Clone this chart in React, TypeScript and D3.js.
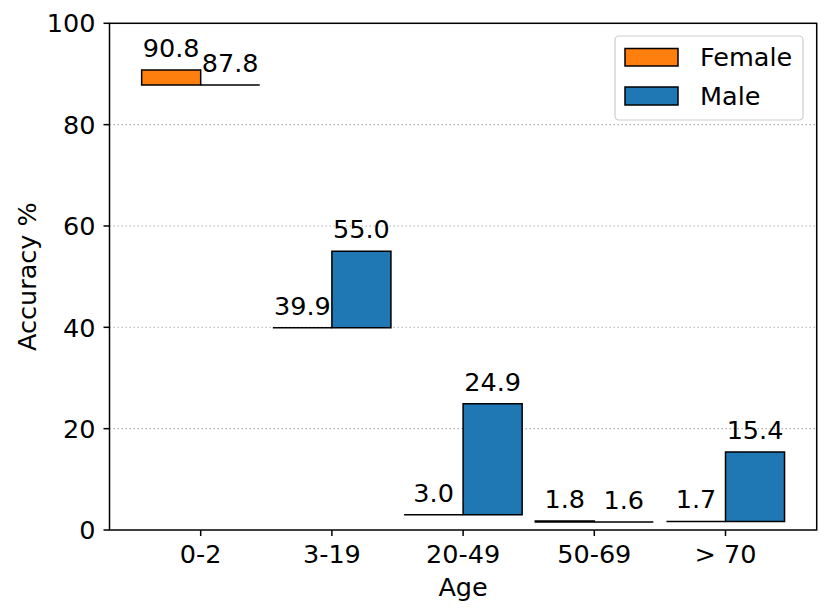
import React from "react";
import * as d3 from "d3";

const categories = ["0-2", "3-19", "20-49", "50-69", "> 70"];
const female = [90.8, 39.9, 3.0, 1.8, 1.7];
const male = [87.8, 55.0, 24.9, 1.6, 15.4];
const yTicks = [0, 20, 40, 60, 80, 100];
const gridTicks = [20, 40, 60, 80];

const W = 830;
const H = 615;
const L = 109.5, R = 816.7, T = 23.3, B = 530;
const FONT = "DejaVu Sans, sans-serif";
const FS = 25.5;

export default function App() {
  const x = d3.scaleLinear().domain([-0.695, 4.695]).range([L, R]);
  const y = d3.scaleLinear().domain([0, 100]).range([B, T]);
  const bw = 0.45;

  const bars: { cx: number; x0: number; x1: number; lo: number; hi: number; color: string; label: string }[] = [];
  categories.forEach((_, i) => {
    const lo = Math.min(female[i], male[i]);
    bars.push({ cx: i - bw / 2, x0: i - bw, x1: i, lo, hi: female[i], color: "#ff7f0e", label: female[i].toFixed(1) });
    bars.push({ cx: i + bw / 2, x0: i, x1: i + bw, lo, hi: male[i], color: "#1f77b4", label: male[i].toFixed(1) });
  });

  return (
    <svg width={W} height={H} style={{ display: "block", position: "absolute", left: 0, top: 0 }} fontFamily={FONT}>
      <rect width={W} height={H} fill="white" />
      {gridTicks.map((t) => (
        <line key={t} x1={L} x2={R} y1={y(t)} y2={y(t)} stroke="#b0b0b0" strokeWidth={1.1} strokeDasharray="1.5,2.5" />
      ))}
      {bars.map((b, i) => {
        const px0 = x(b.x0), px1 = x(b.x1), py0 = y(b.lo), py1 = y(b.hi);
        return (
          <path
            key={i}
            d={`M${px0},${py0}H${px1}V${py1}H${px0}Z`}
            fill={b.color}
            stroke="black"
            strokeWidth={1.5}
          />
        );
      })}
      {bars.map((b, i) => (
        <text key={"l" + i} x={x(b.cx)} y={y(b.hi) - 13} textAnchor="middle" fontSize={FS} fill="black">
          {b.label}
        </text>
      ))}
      <rect x={L} y={T} width={R - L} height={B - T} fill="none" stroke="black" strokeWidth={1.5} />
      {yTicks.map((t) => (
        <g key={t}>
          <line x1={L - 6} x2={L} y1={y(t)} y2={y(t)} stroke="black" strokeWidth={1.5} />
          <text x={L - 14} y={y(t)} dy="0.36em" textAnchor="end" fontSize={FS}>
            {t}
          </text>
        </g>
      ))}
      {categories.map((c, i) => (
        <g key={c}>
          <line x1={x(i)} x2={x(i)} y1={B} y2={B + 6} stroke="black" strokeWidth={1.5} />
          <text x={x(i)} y={B + 33} textAnchor="middle" fontSize={FS}>
            {c}
          </text>
        </g>
      ))}
      <text x={(L + R) / 2} y={596} textAnchor="middle" fontSize={FS}>
        Age
      </text>
      <text transform={`translate(36,${(T + B) / 2}) rotate(-90)`} textAnchor="middle" fontSize={FS}>
        Accuracy %
      </text>
      <g>
        <rect x={615} y={36} width={188} height={84} rx={4} fill="white" fillOpacity={0.8} stroke="#cccccc" strokeWidth={1.2} />
        <rect x={625} y={48.5} width={53} height={17.5} fill="#ff7f0e" stroke="black" strokeWidth={1.5} />
        <rect x={625} y={87} width={53} height={18} fill="#1f77b4" stroke="black" strokeWidth={1.5} />
        <text x={700} y={57} dy="0.36em" fontSize={FS}>Female</text>
        <text x={700} y={96} dy="0.36em" fontSize={FS}>Male</text>
      </g>
    </svg>
  );
}
